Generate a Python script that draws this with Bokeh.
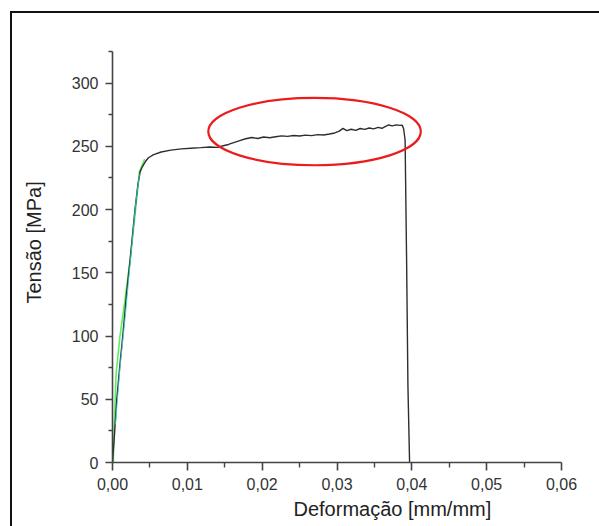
import math
from bokeh.plotting import figure
from bokeh.models import Range1d, FixedTicker, CustomJSTickFormatter, Title
from bokeh.embed import file_html
from bokeh.resources import INLINE

# ---------------- data ----------------
strain_main = [0.0, 0.0003, 0.00057, 0.0010, 0.00137, 0.0019, 0.00235, 0.0030, 0.0034,
               0.0037, 0.0040, 0.0044, 0.0048, 0.0055, 0.0065, 0.0078, 0.0092, 0.0105,
               0.0118, 0.0130, 0.0140, 0.0148, 0.0155, 0.0162, 0.0170, 0.0178, 0.0186,
               0.0194, 0.0202, 0.0210, 0.0218, 0.0226, 0.0234, 0.0242, 0.0250, 0.0258,
               0.0266, 0.0274, 0.0282, 0.0290, 0.0297, 0.0303, 0.0308, 0.0313, 0.0319,
               0.0325, 0.0331, 0.0337, 0.0343, 0.0349, 0.0355, 0.0360, 0.0365, 0.0369,
               0.0374, 0.0379, 0.0384, 0.0387, 0.0389, 0.0391, 0.0393, 0.03948, 0.0397]
stress_main = [0.0, 25.0, 50.0, 78.0, 100.0, 135.0, 160.0, 200.0, 220.0,
               230.0, 234.0, 238.0, 241.0, 243.5, 245.5, 247.0, 248.0, 248.5,
               249.0, 249.5, 249.2, 250.5, 251.5, 253.0, 254.5, 256.0, 257.0,
               256.2, 257.4, 256.8, 257.6, 258.3, 257.9, 258.6, 258.2, 258.9,
               258.5, 259.3, 259.0, 259.8, 260.6, 262.0, 264.2, 262.4, 263.5,
               262.6, 264.1, 263.4, 264.5, 263.8, 265.0, 264.3, 265.8, 266.9,
               266.2, 267.0, 266.6, 266.8, 264.0, 255.0, 160.0, 60.0, 0.0]

strain_green = [0.0001, 0.0003, 0.00048, 0.0010, 0.0017, 0.00235, 0.0030, 0.0036, 0.0043]
stress_green = [0.0, 40.0, 70.0, 100.0, 130.0, 160.0, 195.0, 230.0, 240.0]

strain_cyan = [0.0004, 0.0010, 0.0017, 0.0024, 0.0031, 0.0036]
stress_cyan = [30.0, 75.0, 115.0, 160.0, 205.0, 228.0]

x_ticks = [0.0, 0.01, 0.02, 0.03, 0.04, 0.05, 0.06]
x_tick_labels = ["0,00", "0,01", "0,02", "0,03", "0,04", "0,05", "0,06"]
x_minor_ticks = [0.005, 0.015, 0.025, 0.035, 0.045, 0.055]

y_ticks = [0, 50, 100, 150, 200, 250, 300]
y_tick_labels = ["0", "50", "100", "150", "200", "250", "300"]
y_minor_ticks = [25, 75, 125, 175, 225, 275, 325]

highlight_x = [0.0270]
highlight_y = [261.7]
highlight_w = [0.0284]
highlight_h = [53.3]

x_title = "Deformação [mm/mm]"
y_title = "Tensão [MPa]"

# ---------------- figure ----------------
p = figure(width=599, height=526, x_range=Range1d(0, 0.06), y_range=Range1d(0, 325),
           output_backend="svg", toolbar_location=None,
           min_border_left=111, min_border_right=38, min_border_top=51, min_border_bottom=64)
# black picture frame (top and left edges) drawn behind a transparent border area
p.styles = {"background": "linear-gradient(#111111, #111111) 10px 11px / 2px 100% no-repeat, "
                          "linear-gradient(#111111, #111111) 10px 11px / 100% 2px no-repeat, #ffffff"}
p.border_fill_color = None
p.outline_line_color = None
p.grid.visible = False
p.background_fill_color = "white"

fmt_code = """
const i = tick_vals.findIndex(t => Math.abs(t - tick) < 1e-9);
return i >= 0 ? tick_texts[i] : '';
"""
p.xaxis.ticker = FixedTicker(ticks=x_ticks, minor_ticks=x_minor_ticks)
p.xaxis.formatter = CustomJSTickFormatter(args=dict(tick_vals=x_ticks, tick_texts=x_tick_labels), code=fmt_code)
p.yaxis.ticker = FixedTicker(ticks=y_ticks, minor_ticks=y_minor_ticks)
p.yaxis.formatter = CustomJSTickFormatter(args=dict(tick_vals=y_ticks, tick_texts=y_tick_labels), code=fmt_code)

for ax in (p.xaxis[0], p.yaxis[0]):
    ax.axis_line_color = "#444444"
    ax.axis_line_width = 1.6
    ax.major_tick_line_color = "#444444"
    ax.major_tick_line_width = 1.6
    ax.minor_tick_line_color = "#444444"
    ax.minor_tick_line_width = 1.4
    ax.major_tick_in = 0
    ax.minor_tick_in = 0
    ax.major_label_text_font = "Liberation Sans"
    ax.major_label_text_font_size = "16px"
    ax.major_label_text_color = "#333333"

p.xaxis.major_tick_out = 8
p.xaxis.minor_tick_out = 5
p.xaxis.major_label_standoff = 7
p.yaxis.major_tick_out = 7
p.yaxis.minor_tick_out = 4
p.yaxis.major_label_standoff = 7

# curves
p.line(strain_green, stress_green, line_color="#5cf05c", line_width=1.6)
p.line(strain_main, stress_main, line_color="#2e2e2e", line_width=1.4)
p.line(strain_cyan, stress_cyan, line_color="#33d6d6", line_width=1.0, line_alpha=0.8)

# highlight ellipse
p.ellipse(x=highlight_x, y=highlight_y, width=highlight_w, height=highlight_h,
          fill_color=None, line_color="#ec1c1c", line_width=2.2)

# axis titles (as side titles so they can sit off-centre like the reference)
xt = Title(text=x_title, align="left", offset=181, standoff=7,
           text_font="Liberation Sans", text_font_size="20px", text_font_style="normal",
           text_color="#222222")
p.add_layout(xt, "below")
yt = Title(text=y_title, align="left", offset=159, standoff=44, vertical_align="top",
           text_font="Liberation Sans", text_font_size="20px", text_font_style="normal",
           text_color="#222222")
p.add_layout(yt, "left")

open("out.html", "w").write(file_html(p, INLINE))
